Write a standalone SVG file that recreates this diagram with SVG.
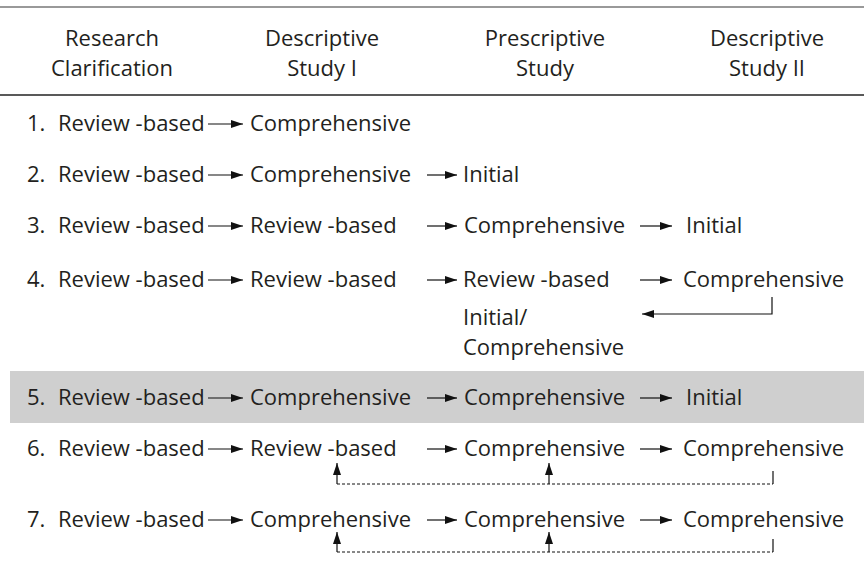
<svg xmlns="http://www.w3.org/2000/svg" width="864" height="561" viewBox="0 0 864 561">
<style>
text{font-family:"Open Sans","Noto Sans","DejaVu Sans",sans-serif;font-size:22px;fill:#231f20}
.h{text-anchor:middle}
.ln{stroke:#111;stroke-width:1.2;fill:none}
.ds{stroke:#111;stroke-width:1;fill:none;stroke-dasharray:3 2}
</style>
<defs>
<marker id="ah" markerUnits="userSpaceOnUse" markerWidth="12" markerHeight="8" refX="12" refY="4" orient="auto">
<path d="M0,0 L12,4 L0,8 z" fill="#111"/>
</marker>
</defs>
<rect id="band" x="10" y="371" width="854" height="52" fill="#cfcfcf"/>
<g id="rules">
<line x1="0" y1="7" x2="864" y2="7" stroke="#777" stroke-width="1.6"/>
<line x1="0" y1="95" x2="864" y2="95" stroke="#222" stroke-width="1.3"/>
</g>
<g id="header">
<text class="h" x="112" y="46">Research</text>
<text class="h" x="112" y="76">Clarification</text>
<text class="h" x="322" y="46">Descriptive</text>
<text class="h" x="322" y="76">Study I</text>
<text class="h" x="545" y="46">Prescriptive</text>
<text class="h" x="545" y="76">Study</text>
<text class="h" x="767" y="46">Descriptive</text>
<text class="h" x="767" y="76">Study II</text>
</g>
<g id="row1">
<text x="27" y="131">1.</text>
<text x="58" y="131">Review -based</text>
<text x="250" y="131">Comprehensive</text>
</g>
<g id="row2">
<text x="27" y="182">2.</text>
<text x="58" y="182">Review -based</text>
<text x="250" y="182">Comprehensive</text>
<text x="463" y="182">Initial</text>
</g>
<g id="row3">
<text x="27" y="233">3.</text>
<text x="58" y="233">Review -based</text>
<text x="250" y="233">Review -based</text>
<text x="464" y="233">Comprehensive</text>
<text x="686" y="233">Initial</text>
</g>
<g id="row4">
<text x="27" y="287">4.</text>
<text x="58" y="287">Review -based</text>
<text x="250" y="287">Review -based</text>
<text x="463" y="287">Review -based</text>
<text x="683" y="287">Comprehensive</text>
<text x="463" y="325">Initial/</text>
<text x="463" y="355">Comprehensive</text>
</g>
<g id="row5">
<text x="27" y="405">5.</text>
<text x="58" y="405">Review -based</text>
<text x="250" y="405">Comprehensive</text>
<text x="464" y="405">Comprehensive</text>
<text x="686" y="405">Initial</text>
</g>
<g id="row6">
<text x="27" y="456">6.</text>
<text x="58" y="456">Review -based</text>
<text x="250" y="456">Review -based</text>
<text x="464" y="456">Comprehensive</text>
<text x="683" y="456">Comprehensive</text>
</g>
<g id="row7">
<text x="27" y="527">7.</text>
<text x="58" y="527">Review -based</text>
<text x="250" y="527">Comprehensive</text>
<text x="464" y="527">Comprehensive</text>
<text x="683" y="527">Comprehensive</text>
</g>
<g id="connectors">
<path class="ln" marker-end="url(#ah)" d="M208,124 H243"/>
<path class="ln" marker-end="url(#ah)" d="M208,175 H243"/>
<path class="ln" marker-end="url(#ah)" d="M427,175 H457"/>
<path class="ln" marker-end="url(#ah)" d="M208,226 H243"/>
<path class="ln" marker-end="url(#ah)" d="M427,226 H457"/>
<path class="ln" marker-end="url(#ah)" d="M640,226 H672"/>
<path class="ln" marker-end="url(#ah)" d="M208,280 H243"/>
<path class="ln" marker-end="url(#ah)" d="M427,280 H457"/>
<path class="ln" marker-end="url(#ah)" d="M640,280 H672"/>
<path class="ln" marker-end="url(#ah)" d="M772,297 V314 H642"/>
<path class="ln" marker-end="url(#ah)" d="M208,398 H243"/>
<path class="ln" marker-end="url(#ah)" d="M427,398 H457"/>
<path class="ln" marker-end="url(#ah)" d="M640,398 H672"/>
<path class="ln" marker-end="url(#ah)" d="M208,449 H243"/>
<path class="ln" marker-end="url(#ah)" d="M427,449 H457"/>
<path class="ln" marker-end="url(#ah)" d="M640,449 H672"/>
<path class="ds" d="M337,484 H773"/>
<path class="ln" d="M773,484 V471"/>
<path class="ln" marker-end="url(#ah)" d="M337,484 V463"/>
<path class="ln" marker-end="url(#ah)" d="M549,484 V463"/>
<path class="ln" marker-end="url(#ah)" d="M208,520 H243"/>
<path class="ln" marker-end="url(#ah)" d="M427,520 H457"/>
<path class="ln" marker-end="url(#ah)" d="M640,520 H672"/>
<path class="ds" d="M337,552 H773"/>
<path class="ln" d="M773,552 V539"/>
<path class="ln" marker-end="url(#ah)" d="M337,552 V532"/>
<path class="ln" marker-end="url(#ah)" d="M549,552 V532"/>
</g>
</svg>
